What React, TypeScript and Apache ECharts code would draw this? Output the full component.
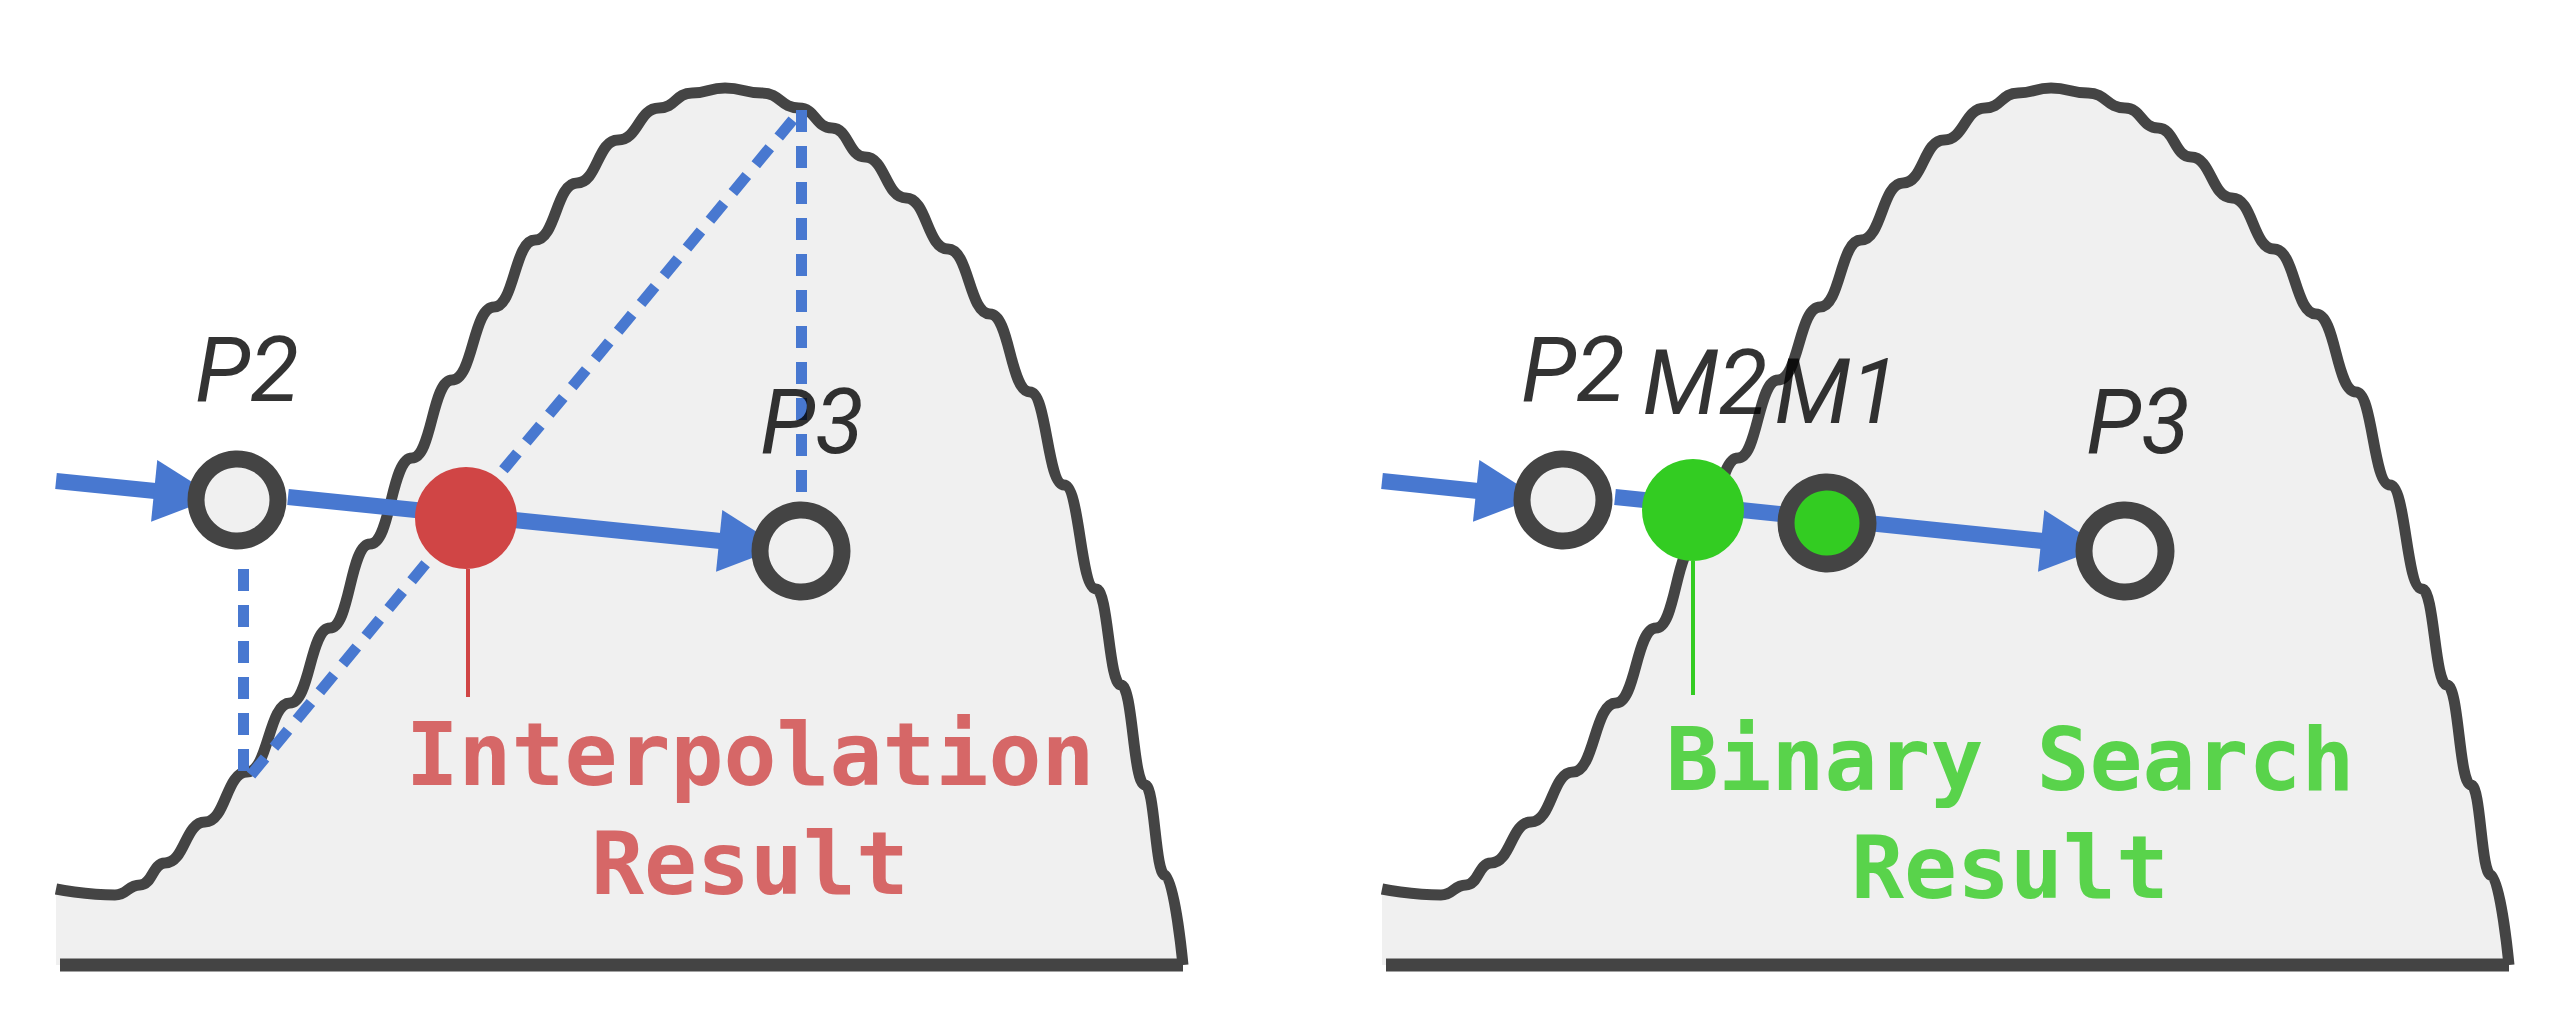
import React, { useEffect, useRef } from "react";
import * as echarts from "echarts";

const OFFSET = 1326;
const curveX = [56, 115, 140, 165, 205, 247, 290, 330, 370, 412, 452, 494, 535, 577, 618, 659, 692, 725, 762, 799, 832, 865, 906, 948, 990, 1030, 1064, 1096, 1121, 1145, 1165, 1183];
const curveY = [889, 895, 885, 863, 822, 772, 703, 628, 544, 458, 380, 307, 240, 183, 140, 108, 93, 88, 93, 108, 128, 157, 198, 249, 314, 392, 485, 589, 685, 785, 875, 965];
const baseY = 965;

const BLUE = "#4878d0", DARK = "#444444", FILL = "#f0f0f0", RED = "#d04545", GREEN = "#33cc22";

const leftArrows = [[[56, 481], [185, 494]], [[288, 497], [750, 544]]];
const rightArrows = [[[1382, 481], [1507, 494]], [[1615, 497], [2072, 544]]];
const leftDashes = [[[243, 569], [243, 772]], [[251, 775], [801, 110]], [[801, 110], [801, 497]]];
const leftOpen = [[237, 500], [801, 551]];
const rightOpen = [[1563, 500], [2125, 551]];
const redDot = [466, 518];
const greenDot = [1693, 510];
const m1Dot = [1827, 523];
const redStem = [[468, 569], [468, 697]];
const greenStem = [[1693, 561], [1693, 695]];
const pointLabels = [
  { name: "P2", value: [247, 370] },
  { name: "P3", value: [812, 422] },
  { name: "P2", value: [1573, 370] },
  { name: "M2", value: [1705, 383] },
  { name: "M1", value: [1837, 392] },
  { name: "P3", value: [2138, 422] },
];
const resultLabels = [
  { name: "Interpolation", value: [750, 754], color: RED },
  { name: "Result", value: [750, 863], color: RED },
  { name: "Binary Search", value: [2010, 759], color: GREEN },
  { name: "Result", value: [2010, 867], color: GREEN },
];

function curve(off: number) {
  return curveX.map((x, i) => [x + off, curveY[i]]);
}

export default function App() {
  const ref = useRef<HTMLDivElement>(null);
  useEffect(() => {
    document.body.style.margin = "0";
    const chart = echarts.init(ref.current!, undefined, { renderer: "svg" });
    const series: any[] = [];
    [0, OFFSET].forEach((off) => {
      series.push({
        type: "line", data: curve(off), smooth: 0.5, smoothMonotone: "x", symbol: "none",
        lineStyle: { color: DARK, width: 11 },
        areaStyle: { color: FILL, origin: baseY, opacity: 1 }, z: 1,
      });
      series.push({
        type: "line", data: [[60 + off, baseY], [1183 + off, baseY]], symbol: "none",
        lineStyle: { color: DARK, width: 13 }, z: 2,
      });
    });
    series.push({
      type: "lines", coordinateSystem: "cartesian2d", z: 3,
      data: leftDashes.map((c) => ({ coords: c })),
      lineStyle: { color: BLUE, width: 11, type: [22, 14], opacity: 1 },
    });
    series.push({
      type: "lines", coordinateSystem: "cartesian2d", z: 4,
      symbol: ["none", "triangle"], symbolSize: [66, 62],
      data: [...leftArrows, ...rightArrows].map((c) => ({ coords: c })),
      lineStyle: { color: BLUE, width: 16, opacity: 1 },
    });
    series.push({
      type: "lines", coordinateSystem: "cartesian2d", z: 4,
      data: [{ coords: redStem, lineStyle: { color: RED } }, { coords: greenStem, lineStyle: { color: GREEN } }],
      lineStyle: { width: 4, opacity: 1 },
    });
    series.push({
      type: "scatter", z: 5, symbolSize: 82,
      data: [...leftOpen, ...rightOpen],
      itemStyle: { color: FILL, borderColor: DARK, borderWidth: 17, opacity: 1 },
    });
    series.push({
      type: "scatter", z: 5, symbolSize: 82,
      data: [m1Dot],
      itemStyle: { color: GREEN, borderColor: DARK, borderWidth: 17, opacity: 1 },
    });
    series.push({
      type: "scatter", z: 6, symbolSize: 102,
      data: [{ value: redDot, itemStyle: { color: RED } }, { value: greenDot, itemStyle: { color: GREEN } }],
      itemStyle: { opacity: 1 },
    });
    series.push({
      type: "scatter", z: 7, symbolSize: 2, itemStyle: { color: "rgba(0,0,0,0)" },
      data: pointLabels,
      label: {
        show: true, position: "inside", formatter: "{b}", color: "#000",
        fontFamily: "Roboto", fontStyle: "italic", fontSize: 90,
      },
    });
    series.push({
      type: "scatter", z: 7, symbolSize: 2, itemStyle: { color: "rgba(0,0,0,0)" },
      data: resultLabels.map((r) => ({ name: r.name, value: r.value, label: { color: r.color } })),
      label: {
        show: true, position: "inside", formatter: "{b}",
        fontFamily: "DejaVu Sans Mono", fontWeight: "bold", fontSize: 88,
      },
    });
    chart.setOption({
      animation: false,
      grid: { left: 0, right: 0, top: 0, bottom: 0 },
      xAxis: { type: "value", min: 0, max: 2570, show: false },
      yAxis: { type: "value", min: 0, max: 1020, inverse: true, show: false },
      series,
    });
    return () => chart.dispose();
  }, []);
  return <div ref={ref} style={{ width: 2570, height: 1020, background: "#fff" }} />;
}
